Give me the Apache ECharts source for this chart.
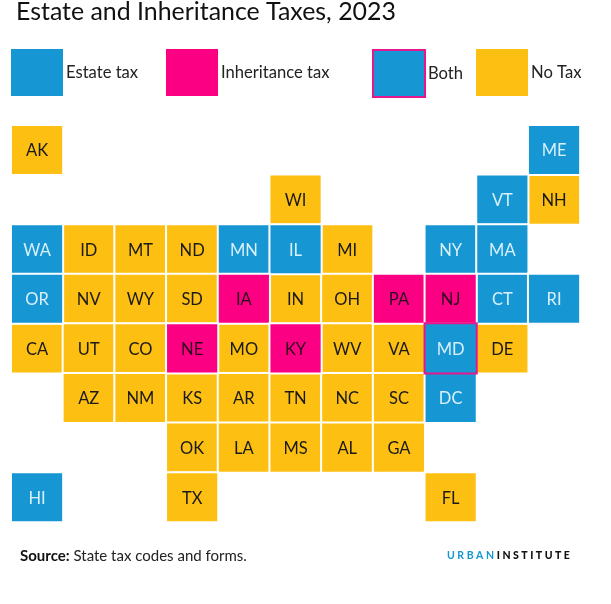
<!DOCTYPE html>
<html>
<head>
<meta charset="utf-8">
<title>Estate and Inheritance Taxes, 2023</title>
<script src="https://cdn.jsdelivr.net/npm/echarts@6/dist/echarts.min.js"></script>
<style>
    html, body { margin: 0; padding: 0; background: #fff; }
    #chart { width: 611px; height: 604px; }
</style>
</head>
<body>
<div id="chart"></div>
<script>
    'use strict';

    // tile map layout, one list per row ('' = empty tile)
    const tileRows = [
        ['AK', '', '', '', '', '', '', '', '', '', 'ME'],
        ['', '', '', '', '', 'WI', '', '', '', 'VT', 'NH'],
        ['WA', 'ID', 'MT', 'ND', 'MN', 'IL', 'MI', '', 'NY', 'MA', ''],
        ['OR', 'NV', 'WY', 'SD', 'IA', 'IN', 'OH', 'PA', 'NJ', 'CT', 'RI'],
        ['CA', 'UT', 'CO', 'NE', 'MO', 'KY', 'WV', 'VA', 'MD', 'DE', ''],
        ['', 'AZ', 'NM', 'KS', 'AR', 'TN', 'NC', 'SC', 'DC', '', ''],
        ['', '', '', 'OK', 'LA', 'MS', 'AL', 'GA', '', '', ''],
        ['HI', '', '', 'TX', '', '', '', '', 'FL', '', '']
    ];

    const estateStates = ['ME', 'VT', 'WA', 'MN', 'IL', 'NY', 'MA', 'OR', 'CT', 'RI', 'DC', 'HI'];
    const inheritanceStates = ['IA', 'PA', 'NJ', 'NE', 'KY'];
    const bothStates = ['MD'];

    const legendNames = ['Estate tax', 'Inheritance tax', 'Both', 'No Tax'];
    const legendLefts = [11, 166, 372, 476];

    const BLUE = '#1696d2';
    const PINK = '#fb0082';
    const BORDER_PINK = '#e6168c';
    const YELLOW = '#fdbf11';
    const INK = '#1a1a1a';
    const FONT = 'Lato, Carlito, "Open Sans", sans-serif';

    const colNames = tileRows[0].map((_, i) => String(i));
    const rowNames = tileRows.map((_, i) => String(i));

    // builds [col, row, 1] items for the states that pass the test
    // heatmap skips items whose third value is not a number
    function tiles(test) {
        const out = [];
        tileRows.forEach((row, y) => row.forEach((state, x) => {
            if (state && test(state)) out.push([x, y, 1]);
        }));
        return out;
    }

    function tileSeries(name, test, fill, textColor, border) {
        return {
            name: name,
            type: 'heatmap',
            data: tiles(test),
            silent: true,
            itemStyle: {
                color: fill,
                borderColor: border || '#fff',
                borderWidth: 2
            },
            label: {
                show: true,
                color: textColor,
                fontFamily: FONT,
                fontSize: 16.5,
                offset: [0, 1],
                formatter: p => tileRows[p.value[1]][p.value[0]]
            }
        };
    }

    const noTax = s => !estateStates.includes(s) && !inheritanceStates.includes(s) && !bothStates.includes(s);

    const series = [
        tileSeries('No Tax', noTax, YELLOW, INK),
        tileSeries('Estate tax', s => estateStates.includes(s), BLUE, '#d9f0fb'),
        tileSeries('Inheritance tax', s => inheritanceStates.includes(s), PINK, '#2b0a1c'),
        tileSeries('Both', s => bothStates.includes(s), BLUE, '#d9f0fb', BORDER_PINK)
    ];

    const legendFills = [BLUE, PINK, BLUE, YELLOW];

    const chart = echarts.init(document.getElementById('chart'));
    chart.setOption({
        animation: false,
        backgroundColor: '#fff',
        title: {
            text: 'Estate and Inheritance Taxes, 2023',
            left: 16,
            top: -1,
            padding: 0,
            textStyle: { fontFamily: FONT, fontWeight: 'normal', fontSize: 24.9, color: '#111' }
        },
        legend: legendNames.map((name, i) => ({
            data: [name],
            left: legendLefts[i],
            top: 49,
            padding: 0,
            itemWidth: 52,
            itemHeight: 47,
            itemGap: 0,
            selectedMode: false,
            icon: 'rect',
            itemStyle: {
                color: legendFills[i],
                borderColor: name === 'Both' ? BORDER_PINK : 'transparent',
                borderWidth: name === 'Both' ? 2 : 0
            },
            textStyle: {
                fontFamily: FONT,
                fontSize: 16.6,
                color: '#222',
                padding: [name === 'Both' ? 0 : 2, 0, 0, -2]
            }
        })),
        grid: { left: 11.2, top: 125.2, width: 568.7, height: 396.8 },
        xAxis: { type: 'category', data: colNames, show: false },
        yAxis: { type: 'category', data: rowNames, inverse: true, show: false },
        series: series,
        graphic: [
            {
                type: 'text',
                left: 20,
                top: 549,
                style: {
                    text: '{b|Source:} State tax codes and forms.',
                    rich: {
                        b: { fontFamily: FONT, fontWeight: 'bold', fontSize: 15, fill: '#111' }
                    },
                    fontFamily: FONT,
                    fontSize: 15,
                    fill: '#222'
                }
            },
            {
                type: 'text',
                left: 447,
                top: 550,
                style: {
                    text: '{u|U R B A N} {i|I N S T I T U T E}',
                    rich: {
                        u: { fontFamily: FONT, fontWeight: 'bold', fontSize: 10.5, fill: BLUE },
                        i: { fontFamily: FONT, fontWeight: 900, fontSize: 10.5, fill: '#111' }
                    },
                    fontFamily: FONT,
                    fontSize: 10.5
                }
            }
        ]
    });
</script>
</body>
</html>
